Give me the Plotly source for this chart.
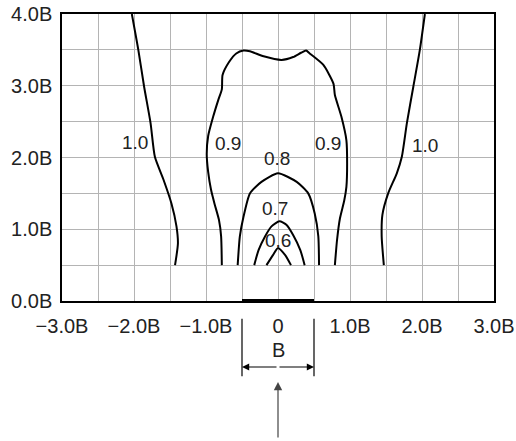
import plotly.graph_objects as go

# contour lines (x, z in units of B)
c10_left_x = [-2.03, -1.94, -1.86, -1.77, -1.71, -1.59, -1.48, -1.41, -1.39, -1.43]
c10_left_y = [4.0, 3.5, 2.99, 2.48, 2.01, 1.69, 1.36, 1.04, 0.80, 0.50]
c10_right_x = [2.04, 1.97, 1.88, 1.79, 1.72, 1.65, 1.53, 1.45, 1.44, 1.47]
c10_right_y = [4.0, 3.5, 2.99, 2.48, 2.01, 1.78, 1.50, 1.20, 0.90, 0.50]
c09_x = [-0.78, -0.79, -0.82, -0.88, -0.93, -0.97, -0.99, -0.97, -0.90, -0.83, -0.78,
         -0.77, -0.68, -0.58, -0.48, -0.39, -0.20, 0.05, 0.21, 0.32, 0.39, 0.44, 0.63,
         0.77, 0.79, 0.88, 0.95, 0.96, 0.95, 0.92, 0.86, 0.82, 0.79]
c09_y = [0.50, 0.90, 1.13, 1.35, 1.55, 1.80, 2.05, 2.30, 2.57, 2.80, 2.95,
         3.15, 3.33, 3.45, 3.49, 3.48, 3.41, 3.36, 3.40, 3.46, 3.49, 3.45, 3.29,
         3.03, 2.87, 2.57, 2.24, 1.92, 1.59, 1.40, 1.15, 0.85, 0.50]
c08_x = [-0.56, -0.53, -0.48, -0.39, -0.23, 0.0, 0.26, 0.42, 0.51, 0.56, 0.57]
c08_y = [0.50, 0.90, 1.17, 1.50, 1.66, 1.78, 1.66, 1.50, 1.22, 0.90, 0.50]
c07_x = [-0.33, -0.27, -0.18, -0.09, 0.02, 0.12, 0.21, 0.31, 0.37]
c07_y = [0.50, 0.71, 0.90, 1.04, 1.11, 1.06, 0.92, 0.71, 0.50]
c06_x = [-0.16, -0.07, 0.0, 0.10, 0.18]
c06_y = [0.50, 0.64, 0.74, 0.64, 0.50]

label_text = ["1.0", "1.0", "0.9", "0.9", "0.8", "0.7", "0.6"]
label_x = [-1.99, 2.04, -0.69, 0.70, -0.02, -0.04, 0.0]
label_y = [2.21, 2.17, 2.20, 2.19, 1.99, 1.29, 0.85]

x_ticks = [-3, -2, -1, 0, 1, 2, 3]
x_ticktext = ["−3.0B", "−2.0B", "−1.0B", "0", "1.0B", "2.0B", "3.0B"]
y_ticks = [0, 1, 2, 3, 4]
y_ticktext = ["0.0B", "1.0B", "2.0B", "3.0B", "4.0B"]

footing_x = [-0.5, 0.5]

FONT = "Liberation Sans, Arial, sans-serif"
TXT = "#222"

fig = go.Figure()
for xs, ys in [(c10_left_x, c10_left_y), (c10_right_x, c10_right_y), (c09_x, c09_y),
               (c08_x, c08_y), (c07_x, c07_y), (c06_x, c06_y)]:
    fig.add_trace(go.Scatter(x=xs, y=ys, mode="lines",
                             line=dict(color="black", width=2, shape="spline", smoothing=0.6),
                             hoverinfo="skip"))

for t, x, y in zip(label_text, label_x, label_y):
    fig.add_annotation(x=x, y=y, text=t, showarrow=False,
                       font=dict(family=FONT, size=19, color=TXT))

# footing
fig.add_shape(type="line", xref="x", yref="paper", x0=footing_x[0], x1=footing_x[1],
              y0=0, y1=0, line=dict(color="black", width=4))

# dimension lines for B
for fx in footing_x:
    fig.add_shape(type="line", xref="x", yref="paper", x0=fx, x1=fx,
                  y0=-0.062, y1=-0.262, line=dict(color="black", width=1.2))
    fig.add_annotation(x=fx, y=-0.23, xref="x", yref="paper", ax=0, ay=0,
                       axref="x", ayref="pixel", showarrow=True, text="",
                       arrowhead=2, arrowsize=1.2, arrowwidth=1.2, arrowcolor="black")
fig.add_annotation(x=0, y=-0.171, xref="x", yref="paper", text="B", showarrow=False,
                   yanchor="middle", font=dict(family=FONT, size=20, color=TXT))

# load arrow
fig.add_annotation(x=0, y=-0.282, xref="x", yref="paper", ax=0, ay=57,
                   axref="x", ayref="pixel", showarrow=True, text="",
                   arrowhead=2, arrowsize=1.4, arrowwidth=1.2, arrowcolor="#444")

grid = "#b4b4b4"
fig.update_xaxes(range=[-3, 3], tickvals=x_ticks, ticktext=x_ticktext, automargin=False,
                 showgrid=True, gridcolor=grid, gridwidth=1,
                 minor=dict(dtick=0.5, tick0=0, showgrid=True, gridcolor=grid, gridwidth=1),
                 showline=True, linecolor="black", linewidth=1.5, mirror=True,
                 zeroline=False, ticks="", ticklabelstandoff=6,
                 tickfont=dict(family=FONT, size=20, color=TXT))
fig.update_yaxes(range=[0, 4], tickvals=y_ticks, ticktext=y_ticktext, automargin=False,
                 showgrid=True, gridcolor=grid, gridwidth=1,
                 minor=dict(dtick=0.5, tick0=0, showgrid=True, gridcolor=grid, gridwidth=1),
                 showline=True, linecolor="black", linewidth=1.5, mirror=True,
                 zeroline=False, ticks="", ticklabelstandoff=4,
                 tickfont=dict(family=FONT, size=20, color=TXT))
fig.update_layout(width=516, height=441, margin=dict(l=62, r=22, t=14, b=140),
                  plot_bgcolor="white", paper_bgcolor="white", showlegend=False)

# drop the browser's default body margin so the figure sits at the page corner
fig.write_html("out.html", config={"displayModeBar": False},
               post_script="document.body.style.margin = '0';")
